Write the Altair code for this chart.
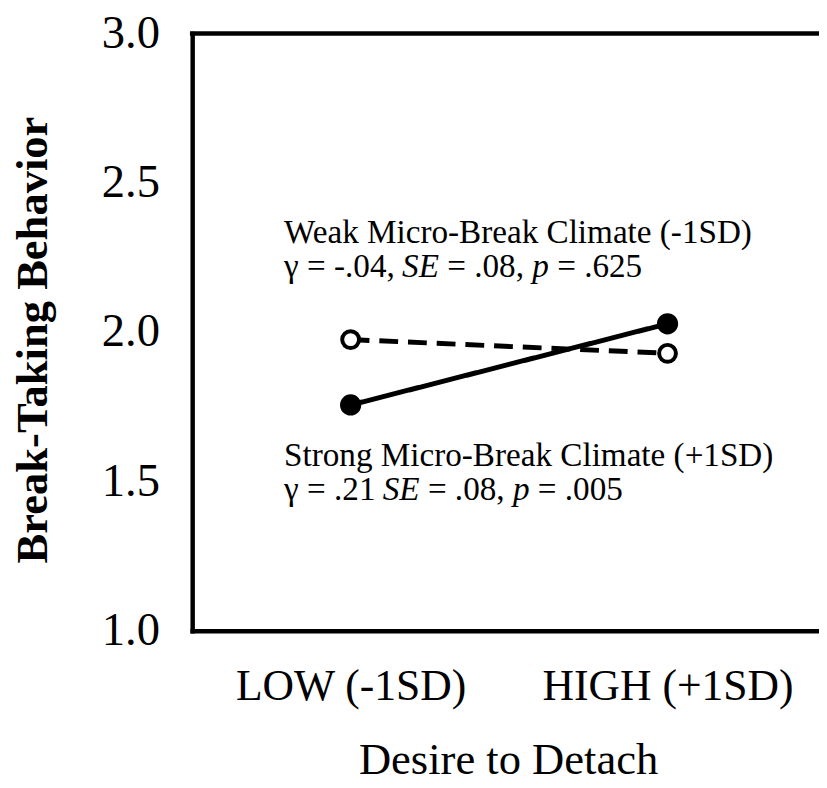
import altair as alt
import pandas as pd

FONT = "Liberation Serif"

# ---- data ----
levels = ["LOW (-1SD)", "HIGH (+1SD)"]
level_pos = [1, 2]
strong_values = [1.756, 2.028]   # Strong Micro-Break Climate (+1SD), solid line, filled dots
weak_values = [1.975, 1.929]     # Weak Micro-Break Climate (-1SD), dashed line, open dots
y_ticks = [1.0, 1.5, 2.0, 2.5, 3.0]

weak_title = "Weak Micro-Break Climate (-1SD)"
weak_stats = [("γ = -.04, ", False), ("SE", True), (" = .08, ", False), ("p", True), (" = .625", False)]
strong_title = "Strong Micro-Break Climate (+1SD)"
strong_stats = [("γ = .21 ", False), ("SE", True), (" = .08, ", False), ("p", True), (" = .005", False)]

# annotation anchors (data units)
note_x = [0.79, 0.79]
weak_note_y = [2.300, 2.184]
strong_note_y = [1.551, 1.438]

df = pd.DataFrame({
    "pos": level_pos * 2,
    "level": levels * 2,
    "value": strong_values + weak_values,
    "climate": ["Strong"] * 2 + ["Weak"] * 2,
})

x_scale = alt.Scale(domain=[0.5, 2.478], nice=False, zero=False)
y_scale = alt.Scale(domain=[1, 3], nice=False, zero=False)

label_expr = f"datum.value == 1 ? '{levels[0]}' : '{levels[1]}'"

x_axis = alt.Axis(
    values=level_pos, labelExpr=label_expr, grid=False, ticks=False, tickSize=0,
    domain=True, domainColor="black", domainWidth=4.5, domainCap="square",
    labelFont=FONT, labelFontSize=44, labelColor="black", labelBaseline="alphabetic",
    labelPadding=69, labelFlush=False, labelOverlap=False, labelLimit=0,
    title="Desire to Detach", titleFont=FONT, titleFontSize=45, titleFontWeight="normal",
    titleColor="black", titleX=319, titleY=144, titleAlign="center", titleBaseline="alphabetic",
)
y_axis = alt.Axis(
    values=y_ticks, format=".1f", grid=False, ticks=False, tickSize=0,
    domain=True, domainColor="black", domainWidth=4.5, domainCap="square",
    labelFont=FONT, labelFontSize=47, labelColor="black", labelBaseline="middle",
    labelPadding=33, labelFlush=False, labelOverlap=False, labelLimit=0,
    title="Break-Taking Behavior", titleFont=FONT, titleFontSize=45, titleFontWeight="bold",
    titleColor="black", titleAngle=270, titleX=-161, titleY=309, titleAlign="center",
    titleBaseline="middle",
)

base = alt.Chart(df)

lines = base.mark_line(color="black", strokeWidth=5).encode(
    x=alt.X("pos:Q", scale=x_scale, axis=x_axis),
    y=alt.Y("value:Q", scale=y_scale, axis=y_axis),
    strokeDash=alt.StrokeDash("climate:N",
                              scale=alt.Scale(domain=["Strong", "Weak"], range=[[1, 0], [19, 10]]),
                              legend=None),
    detail="climate:N",
)

filled = base.transform_filter(alt.datum.climate == "Strong").mark_point(
    shape="circle", filled=True, color="black", size=460, opacity=1
).encode(x=alt.X("pos:Q", scale=x_scale), y=alt.Y("value:Q", scale=y_scale))

hollow = base.transform_filter(alt.datum.climate == "Weak").mark_point(
    shape="circle", filled=False, fill="white", fillOpacity=1, stroke="black",
    strokeWidth=4, size=290, opacity=1
).encode(x=alt.X("pos:Q", scale=x_scale), y=alt.Y("value:Q", scale=y_scale))

top_border = alt.Chart(pd.DataFrame({"y": [y_ticks[-1]]})).mark_rule(
    color="black", strokeWidth=4.5, strokeCap="square"
).encode(y=alt.Y("y:Q", scale=y_scale))

FS = 33.5
W_REG = {" ": 0.25, "=": 0.564, "-": 0.333, ".": 0.25, ",": 0.25, "γ": 0.41}
for d in "0123456789":
    W_REG[d] = 0.5
W_IT = {"S": 0.5, "E": 0.611, "p": 0.5}


def seg_w(s, italic):
    tbl = W_IT if italic else W_REG
    return sum(tbl.get(c, W_REG.get(c, 0.5)) for c in s) * FS


def text_layer(txt, xv, yv, dx=0, italic=False):
    return alt.Chart(pd.DataFrame({"x": [xv], "y": [yv], "t": [txt]})).mark_text(
        align="left", baseline="alphabetic", dx=dx, font=FONT, fontSize=FS,
        fontStyle="italic" if italic else "normal", color="black"
    ).encode(x=alt.X("x:Q", scale=x_scale), y=alt.Y("y:Q", scale=y_scale), text="t:N")


def note(title, stats, xv, ys):
    layers = [text_layer(title, xv, ys[0])]
    off = 0.0
    for s, it in stats:
        lead = len(s) - len(s.lstrip(" "))
        layers.append(text_layer(s.strip(" "), xv, ys[1], dx=off + lead * 0.25 * FS, italic=it))
        off += seg_w(s, it)
    return layers


notes = note(weak_title, weak_stats, note_x[0], weak_note_y) + \
    note(strong_title, strong_stats, note_x[1], strong_note_y)

chart = alt.layer(top_border, lines, hollow, filled, *notes).properties(
    width=633, height=603,
    autosize=alt.AutoSizeParams(type="none"),
    padding={"left": 186, "top": 22, "right": 0, "bottom": 150},
    background="white",
).configure_view(stroke=None)

chart.save("out.html", embed_options={"renderer": "svg", "actions": False})
